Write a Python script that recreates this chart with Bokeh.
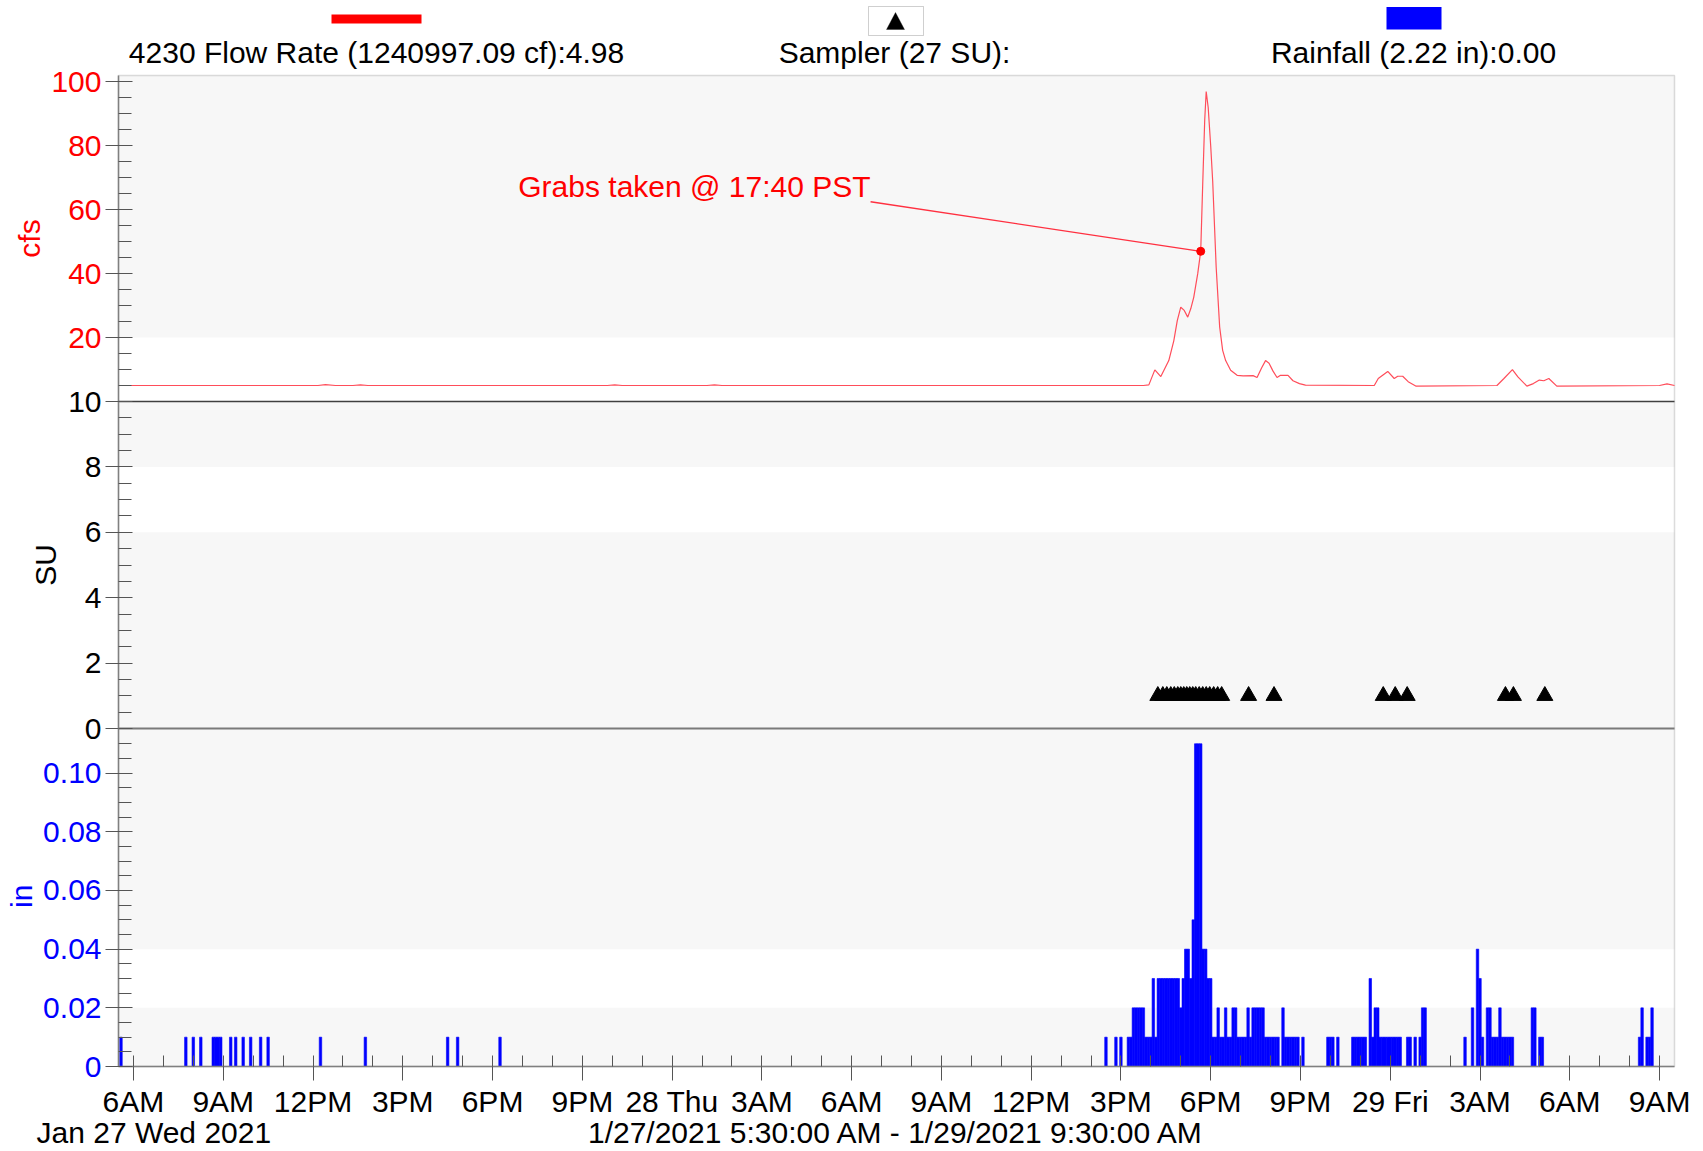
import numpy as np
import pandas as pd
from bokeh.plotting import figure
from bokeh.models import (Range1d, LinearAxis, FixedTicker, CustomJSTickFormatter,
                          BoxAnnotation, Label, PolyAnnotation)
from bokeh.embed import file_html
from bokeh.resources import INLINE

# ---------------- data ----------------
x_start = "2021-01-27 05:30"
x_end = "2021-01-29 09:30"

flow_time = [
    "2021-01-27 05:30", "2021-01-27 09:00", "2021-01-27 12:10", "2021-01-27 12:25",
    "2021-01-27 12:45", "2021-01-27 13:20", "2021-01-27 13:35", "2021-01-27 13:50",
    "2021-01-27 21:50", "2021-01-27 22:05", "2021-01-27 22:20", "2021-01-28 01:10",
    "2021-01-28 01:25", "2021-01-28 01:40", "2021-01-28 15:45", "2021-01-28 15:56",
    "2021-01-28 16:08", "2021-01-28 16:20", "2021-01-28 16:36", "2021-01-28 16:46",
    "2021-01-28 16:53", "2021-01-28 17:00", "2021-01-28 17:07", "2021-01-28 17:14",
    "2021-01-28 17:20", "2021-01-28 17:26", "2021-01-28 17:34", "2021-01-28 17:40",
    "2021-01-28 17:44", "2021-01-28 17:48", "2021-01-28 17:51", "2021-01-28 17:55",
    "2021-01-28 18:00", "2021-01-28 18:04", "2021-01-28 18:11", "2021-01-28 18:18",
    "2021-01-28 18:24", "2021-01-28 18:30", "2021-01-28 18:40", "2021-01-28 18:53",
    "2021-01-28 19:05", "2021-01-28 19:25", "2021-01-28 19:33", "2021-01-28 19:42",
    "2021-01-28 19:50", "2021-01-28 19:57", "2021-01-28 20:05", "2021-01-28 20:13",
    "2021-01-28 20:20", "2021-01-28 20:35", "2021-01-28 20:45", "2021-01-28 20:58",
    "2021-01-28 21:10", "2021-01-28 23:28", "2021-01-28 23:36", "2021-01-28 23:55",
    "2021-01-29 00:08", "2021-01-29 00:15", "2021-01-29 00:25", "2021-01-29 00:36",
    "2021-01-29 00:52", "2021-01-29 03:34", "2021-01-29 03:48", "2021-01-29 04:05",
    "2021-01-29 04:16", "2021-01-29 04:34", "2021-01-29 04:47", "2021-01-29 04:59",
    "2021-01-29 05:08", "2021-01-29 05:18", "2021-01-29 05:34", "2021-01-29 09:00",
    "2021-01-29 09:15", "2021-01-29 09:30",
]
flow_cfs = [
    5.0, 5.0, 5.0, 5.3,
    5.0, 5.0, 5.2, 5.0,
    5.0, 5.2, 5.0, 5.0,
    5.2, 5.0, 5.0, 5.2,
    9.9, 7.8, 12.8, 19.0,
    25.3, 29.5, 28.5, 26.4,
    29.0, 32.6, 40.0, 47.0,
    68.0, 88.0, 97.0, 92.0,
    80.0, 69.0, 42.0, 23.3,
    16.0, 12.8, 9.8, 8.2,
    8.0, 8.1, 7.5, 10.5,
    12.8, 12.0, 9.5, 7.5,
    8.2, 8.2, 6.5, 5.6,
    5.1, 5.0, 7.2, 9.4,
    7.2, 7.9, 7.9, 6.2,
    4.8, 5.0, 7.2, 10.0,
    7.7, 4.8, 5.6, 6.7,
    6.5, 7.2, 4.8, 5.0,
    5.5, 5.0,
]

grab_time = "2021-01-28 17:40"
grab_cfs = 47.0

sampler_time = [
    "2021-01-28 16:14", "2021-01-28 16:24", "2021-01-28 16:32", "2021-01-28 16:40",
    "2021-01-28 16:47", "2021-01-28 16:54", "2021-01-28 17:00", "2021-01-28 17:06",
    "2021-01-28 17:12", "2021-01-28 17:18", "2021-01-28 17:24", "2021-01-28 17:30",
    "2021-01-28 17:37", "2021-01-28 17:44", "2021-01-28 17:51", "2021-01-28 17:58",
    "2021-01-28 18:06", "2021-01-28 18:14", "2021-01-28 18:22", "2021-01-28 19:16",
    "2021-01-28 20:07", "2021-01-28 23:46", "2021-01-29 00:10", "2021-01-29 00:34",
    "2021-01-29 03:51", "2021-01-29 04:07", "2021-01-29 05:10",
]
sampler_su = [1] * 27

rain_time = [
    "2021-01-27 05:35", "2021-01-27 07:45", "2021-01-27 08:00", "2021-01-27 08:15",
    "2021-01-27 08:40", "2021-01-27 08:45", "2021-01-27 08:50", "2021-01-27 08:55",
    "2021-01-27 09:15", "2021-01-27 09:25", "2021-01-27 09:40", "2021-01-27 09:55",
    "2021-01-27 10:15", "2021-01-27 10:30", "2021-01-27 12:15", "2021-01-27 13:45",
    "2021-01-27 16:30", "2021-01-27 16:50", "2021-01-27 18:15",
    "2021-01-28 14:30", "2021-01-28 14:50", "2021-01-28 15:00", "2021-01-28 15:15",
    "2021-01-28 15:20", "2021-01-28 15:25", "2021-01-28 15:30", "2021-01-28 15:35",
    "2021-01-28 15:40", "2021-01-28 15:45", "2021-01-28 15:50", "2021-01-28 15:55",
    "2021-01-28 16:00", "2021-01-28 16:05", "2021-01-28 16:10", "2021-01-28 16:15",
    "2021-01-28 16:20", "2021-01-28 16:25", "2021-01-28 16:30", "2021-01-28 16:35",
    "2021-01-28 16:40", "2021-01-28 16:45", "2021-01-28 16:50", "2021-01-28 16:55",
    "2021-01-28 17:00", "2021-01-28 17:05", "2021-01-28 17:10", "2021-01-28 17:15",
    "2021-01-28 17:20", "2021-01-28 17:25", "2021-01-28 17:30", "2021-01-28 17:35",
    "2021-01-28 17:40", "2021-01-28 17:45", "2021-01-28 17:50", "2021-01-28 17:55",
    "2021-01-28 18:00", "2021-01-28 18:05", "2021-01-28 18:10", "2021-01-28 18:15",
    "2021-01-28 18:20", "2021-01-28 18:25", "2021-01-28 18:30", "2021-01-28 18:35",
    "2021-01-28 18:40", "2021-01-28 18:45", "2021-01-28 18:50", "2021-01-28 18:55",
    "2021-01-28 19:00", "2021-01-28 19:05", "2021-01-28 19:10", "2021-01-28 19:15",
    "2021-01-28 19:20", "2021-01-28 19:25", "2021-01-28 19:30", "2021-01-28 19:35",
    "2021-01-28 19:40", "2021-01-28 19:45", "2021-01-28 19:50", "2021-01-28 19:55",
    "2021-01-28 20:00", "2021-01-28 20:05", "2021-01-28 20:10", "2021-01-28 20:15",
    "2021-01-28 20:25", "2021-01-28 20:30", "2021-01-28 20:35", "2021-01-28 20:40",
    "2021-01-28 20:45", "2021-01-28 20:50", "2021-01-28 20:55", "2021-01-28 21:05",
    "2021-01-28 21:55", "2021-01-28 22:00", "2021-01-28 22:05", "2021-01-28 22:15",
    "2021-01-28 22:45", "2021-01-28 22:50", "2021-01-28 22:55", "2021-01-28 23:00",
    "2021-01-28 23:05", "2021-01-28 23:10", "2021-01-28 23:20", "2021-01-28 23:25",
    "2021-01-28 23:30", "2021-01-28 23:35", "2021-01-28 23:40", "2021-01-28 23:45",
    "2021-01-28 23:50", "2021-01-28 23:55", "2021-01-29 00:00", "2021-01-29 00:05",
    "2021-01-29 00:10", "2021-01-29 00:15", "2021-01-29 00:20", "2021-01-29 00:35",
    "2021-01-29 00:40", "2021-01-29 00:50", "2021-01-29 01:00", "2021-01-29 01:05",
    "2021-01-29 01:10", "2021-01-29 02:30", "2021-01-29 02:45", "2021-01-29 02:55",
    "2021-01-29 03:00", "2021-01-29 03:05", "2021-01-29 03:15", "2021-01-29 03:20",
    "2021-01-29 03:25", "2021-01-29 03:30", "2021-01-29 03:35", "2021-01-29 03:40",
    "2021-01-29 03:45", "2021-01-29 03:50", "2021-01-29 03:55", "2021-01-29 04:00",
    "2021-01-29 04:05", "2021-01-29 04:45", "2021-01-29 04:50", "2021-01-29 05:00",
    "2021-01-29 05:05", "2021-01-29 08:20", "2021-01-29 08:25", "2021-01-29 08:35",
    "2021-01-29 08:40", "2021-01-29 08:45",
]
rain_in = [
    0.01, 0.01, 0.01, 0.01,
    0.01, 0.01, 0.01, 0.01,
    0.01, 0.01, 0.01, 0.01,
    0.01, 0.01, 0.01, 0.01,
    0.01, 0.01, 0.01,
    0.01, 0.01, 0.01, 0.01,
    0.01, 0.02, 0.02, 0.02,
    0.02, 0.02, 0.01, 0.01,
    0.01, 0.03, 0.01, 0.03,
    0.03, 0.03, 0.03, 0.03,
    0.03, 0.03, 0.03, 0.03,
    0.02, 0.03, 0.04, 0.04,
    0.03, 0.05, 0.11, 0.11,
    0.11, 0.04, 0.04, 0.03,
    0.03, 0.01, 0.01, 0.02,
    0.01, 0.01, 0.02, 0.01,
    0.01, 0.02, 0.02, 0.01,
    0.01, 0.01, 0.01, 0.02,
    0.01, 0.02, 0.02, 0.02,
    0.02, 0.02, 0.01, 0.01,
    0.01, 0.01, 0.01, 0.01,
    0.02, 0.01, 0.01, 0.01,
    0.01, 0.01, 0.01, 0.01,
    0.01, 0.01, 0.01, 0.01,
    0.01, 0.01, 0.01, 0.01,
    0.01, 0.01, 0.03, 0.01,
    0.02, 0.02, 0.01, 0.01,
    0.01, 0.01, 0.01, 0.01,
    0.01, 0.01, 0.01, 0.01,
    0.01, 0.01, 0.01, 0.02,
    0.02, 0.01, 0.02, 0.04,
    0.03, 0.01, 0.02, 0.02,
    0.01, 0.01, 0.01, 0.02,
    0.01, 0.01, 0.01, 0.01,
    0.01, 0.02, 0.02, 0.01,
    0.01, 0.01, 0.02, 0.01,
    0.01, 0.02,
]

x_tick_labels = ["6AM", "9AM", "12PM", "3PM", "6PM", "9PM", "28 Thu", "3AM", "6AM",
                 "9AM", "12PM", "3PM", "6PM", "9PM", "29 Fri", "3AM", "6AM", "9AM"]
flow_ticks = [20, 40, 60, 80, 100]
flow_tick_labels = ["20", "40", "60", "80", "100"]
su_ticks = [0, 2, 4, 6, 8, 10]
su_tick_labels = ["0", "2", "4", "6", "8", "10"]
rain_ticks = [0, 0.02, 0.04, 0.06, 0.08, 0.10]
rain_tick_labels = ["0", "0.02", "0.04", "0.06", "0.08", "0.10"]

legend_flow = "4230 Flow Rate (1240997.09 cf):4.98"
legend_sampler = "Sampler (27 SU):"
legend_rain = "Rainfall (2.22 in):0.00"
note_text = "Grabs taken @ 17:40 PST"
date_left_text = "Jan 27 Wed 2021"
date_range_text = "1/27/2021 5:30:00 AM - 1/29/2021 9:30:00 AM"

# ---------------- layout (page pixels) ----------------
W, H = 1703, 1151
P_LEFT, P_RIGHT, P_TOP, P_BOTTOM = 118, 1674, 75, 1066
bands = {  # name: (top px, bottom px, value at bottom, value at top)
    "flow": (75, 401, 0.0, 102.0),
    "default": (401, 728, 0.0, 10.0),
    "rain": (728, 1066, 0.0, 0.1152),
}
TXT_SHIFT = 11  # Bokeh's alphabetic anchor sits this far above the drawn baseline

def k_of(name):
    top, bottom, v0, v1 = bands[name]
    return (bottom - top) / (v1 - v0)

def range_for(name):
    top, bottom, v0, v1 = bands[name]
    k = k_of(name)
    return (v0 - (H - bottom) / k, v1 + top / k)

def ms(t):
    return pd.Timestamp(t).value / 1e6

x0_ms, x1_ms = ms(x_start), ms(x_end)
ms_per_px = (x1_ms - x0_ms) / (P_RIGHT - P_LEFT)

def px_x(px):
    return x0_ms + (px - P_LEFT) * ms_per_px

def px_y(py, name="default"):
    top, bottom, v0, v1 = bands[name]
    return v0 + (bottom - py) / k_of(name)

FONT = "Liberation Sans"
FS = "30px"

p = figure(width=W, height=H,
           x_range=Range1d(px_x(0), px_x(W)), y_range=Range1d(*range_for("default")),
           min_border=0, min_border_left=0, min_border_right=0, min_border_top=0,
           min_border_bottom=0, x_axis_location=None, y_axis_location=None,
           title_location=None, output_backend="svg", toolbar_location=None)
p.extra_y_ranges = {"flow": Range1d(*range_for("flow")), "rain": Range1d(*range_for("rain"))}
p.grid.visible = False
p.background_fill_color = "white"
p.border_fill_color = "white"
p.outline_line_color = None

# background bands
band_fill = "#f7f7f7"
for name, lo, hi in [("flow", 20, 102), ("default", 8, 10), ("default", 0, 6),
                     ("rain", 0, 0.02), ("rain", 0.04, 0.1152)]:
    p.add_layout(BoxAnnotation(left=x0_ms, right=x1_ms, bottom=lo, top=hi, y_range_name=name,
                               fill_color=band_fill, fill_alpha=1.0, line_color=None,
                               level="underlay"))

# plot-area outline
p.add_layout(BoxAnnotation(left=x0_ms, right=x1_ms, top=px_y(P_TOP), bottom=px_y(P_BOTTOM),
                           fill_color=None, fill_alpha=0, line_color="#8a8a8a", line_width=1.5,
                           level="underlay"))

fmt_code = """
let best = -1, bd = Infinity;
for (let i = 0; i < tvals.length; i++) {
  const d = Math.abs(tvals[i] - tick);
  if (d < bd) { bd = d; best = i; }
}
return bd < 1e-6 * (Math.abs(tick) + 1) ? tlabels[best] : "";
"""

# y axes
axes_spec = [
    ("flow", flow_ticks, flow_tick_labels, list(np.arange(5, 101, 5)), "#ff0000", (0, 102)),
    ("default", su_ticks, su_tick_labels, list(np.arange(0.5, 10, 0.5)), "#000000", (0, 10)),
    ("rain", rain_ticks, rain_tick_labels, list(np.round(np.arange(0.005, 0.111, 0.005), 4)), "#0000ff", (0, 0.1152)),
]
for name, ticks, labels, minors, color, bnds in axes_spec:
    ax = LinearAxis(y_range_name=name, fixed_location=x0_ms, bounds=bnds,
                    ticker=FixedTicker(ticks=ticks, minor_ticks=[float(m) for m in minors]),
                    formatter=CustomJSTickFormatter(args=dict(tvals=ticks, tlabels=labels), code=fmt_code))
    ax.major_tick_in = 14
    ax.major_tick_out = 13
    ax.minor_tick_in = 13
    ax.minor_tick_out = 0
    ax.major_tick_line_color = "#555555"
    ax.minor_tick_line_color = "#555555"
    ax.axis_line_color = "#808080"
    ax.axis_line_width = 1.5
    ax.major_label_text_font = FONT
    ax.major_label_text_font_size = FS
    ax.major_label_text_color = color
    ax.major_label_standoff = 4
    p.add_layout(ax, "left")

# x axis (at the bottom of the rainfall panel)
x_tick_ms = [ms(t) for t in pd.date_range("2021-01-27 06:00", "2021-01-29 09:00", freq="3h")]
x_minor_ms = [ms(t) for t in pd.date_range("2021-01-27 06:00", "2021-01-29 09:00", freq="1h")]
xa = LinearAxis(y_range_name="rain", fixed_location=0, bounds=(x0_ms, x1_ms),
                ticker=FixedTicker(ticks=x_tick_ms, minor_ticks=x_minor_ms),
                formatter=CustomJSTickFormatter(args=dict(tvals=x_tick_ms, tlabels=x_tick_labels),
                                                code=fmt_code))
xa.major_tick_in = 0
xa.major_tick_out = 14
xa.minor_tick_in = 11
xa.minor_tick_out = 0
xa.major_tick_line_color = "#555555"
xa.minor_tick_line_color = "#555555"
xa.axis_line_color = "#808080"
xa.axis_line_width = 1.5
xa.major_label_text_font = FONT
xa.major_label_text_font_size = FS
xa.major_label_text_color = "black"
xa.major_label_standoff = 4
p.add_layout(xa, "below")

# panel separators (limited to the plot area)
p.segment(x0=[x0_ms], x1=[x1_ms], y0=[0], y1=[0], y_range_name="flow",
          line_color="#404040", line_width=1.5)
p.segment(x0=[x0_ms], x1=[x1_ms], y0=[0], y1=[0], y_range_name="default",
          line_color="#7a7a7a", line_width=2)

# glyphs
p.vbar(x=[ms(t) for t in rain_time], top=rain_in, bottom=0, width=5 * 60 * 1000,
       y_range_name="rain", fill_color="#0000ff", line_color="#0000ff", line_width=0.6)
p.line(x=[ms(t) for t in flow_time], y=flow_cfs, y_range_name="flow",
       line_color="#ff4d5a", line_width=1.2)
p.scatter(x=[ms(t) for t in sampler_time], y=sampler_su, marker="triangle", size=16,
          fill_color="black", line_color="black", y_range_name="default")

# grab annotation
note_x = ms("2021-01-28 06:38")
p.segment(x0=[note_x], y0=[62.5], x1=[ms(grab_time)], y1=[grab_cfs], y_range_name="flow",
          line_color="#ff3040", line_width=1.3)
p.scatter(x=[ms(grab_time)], y=[grab_cfs], size=8, fill_color="#ff0000", line_color="#ff0000",
          y_range_name="flow")
p.add_layout(Label(x=note_x, y=px_y(196.5 - TXT_SHIFT, "flow"), y_range_name="flow",
                   text=note_text, text_color="#ff0000", text_font=FONT, text_font_size=FS,
                   text_align="right", text_baseline="alphabetic"))

# axis titles (rotated; baseline on the right side)
for name, txt, px, vy, color in [("flow", "cfs", 41, 51, "#ff0000"),
                                 ("default", "SU", 56.5, 5, "#000000"),
                                 ("rain", "in", 33, 0.058, "#0000ff")]:
    p.add_layout(Label(x=px_x(px - TXT_SHIFT - 1), y=vy, y_range_name=name, text=txt, angle=90,
                       angle_units="deg", text_color=color, text_font=FONT,
                       text_font_size=FS, text_align="center", text_baseline="alphabetic"))

# legend header
for txt, cx in [(legend_flow, 376), (legend_sampler, 894), (legend_rain, 1413)]:
    p.add_layout(Label(x=px_x(cx), y=px_y(63 - TXT_SHIFT), text=txt, text_color="black",
                       text_font=FONT, text_font_size=FS, text_align="center",
                       text_baseline="alphabetic"))
p.add_layout(BoxAnnotation(left=px_x(331), right=px_x(421), top=px_y(14), bottom=px_y(23),
                           fill_color="#ff0000", fill_alpha=1, line_color=None))
p.add_layout(BoxAnnotation(left=px_x(868), right=px_x(923), top=px_y(6), bottom=px_y(35),
                           fill_color="white", fill_alpha=1, line_color="#606060", line_width=1))
p.add_layout(PolyAnnotation(xs=[px_x(886), px_x(895), px_x(904)],
                            ys=[px_y(29), px_y(12), px_y(29)],
                            fill_color="black", fill_alpha=1, line_color="black"))
p.add_layout(BoxAnnotation(left=px_x(1386), right=px_x(1441), top=px_y(6.5), bottom=px_y(29),
                           fill_color="#0000ff", fill_alpha=1, line_color=None))

# second row of x labels
p.add_layout(Label(x=px_x(36), y=px_y(1143 - TXT_SHIFT), text=date_left_text, text_color="black",
                   text_font=FONT, text_font_size=FS, text_align="left", text_baseline="alphabetic"))
p.add_layout(Label(x=px_x(896), y=px_y(1143 - TXT_SHIFT), text=date_range_text, text_color="black",
                   text_font=FONT, text_font_size=FS, text_align="center", text_baseline="alphabetic"))

open("out.html", "w").write(file_html(p, INLINE))
